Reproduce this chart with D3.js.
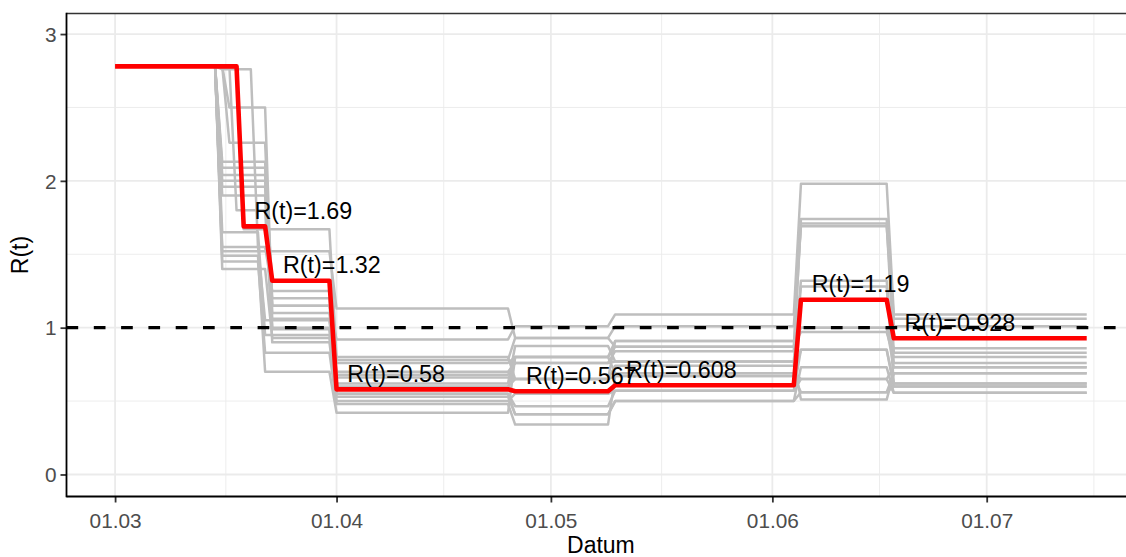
<!DOCTYPE html>
<html><head><meta charset="utf-8">
<script src="https://cdn.jsdelivr.net/npm/d3@7/dist/d3.min.js"></script>
<style>
body{margin:0;background:#fff}
svg{display:block}
text{font-family:"Liberation Sans",Arial,Helvetica,sans-serif}
</style>
</head><body>
<svg id="chart" width="1126" height="557"></svg>
<script>
// ---------------- data ----------------
const startDate = "2020-03-01";          // day 0
const lastDay = 136;                      // last plotted day (15.07.)
const xTickDates = ["2020-03-01","2020-04-01","2020-05-01","2020-06-01","2020-07-01"];
const yTickValues = [0, 1, 2, 3];
const referenceLine = 1;

// red (median) series: day on which each level starts, and its level
const redBreaks = [0, 18, 22, 31, 56, 70, 96, 109];
const redValues = [2.78, 1.69, 1.32, 0.58, 0.567, 0.608, 1.19, 0.928];
const redLabels = ["R(t)=1.69","R(t)=1.32","R(t)=0.58","R(t)=0.567","R(t)=0.608","R(t)=1.19","R(t)=0.928"];

// grey sample series
const grayBreaks = [
  [0,15,22,31,56,70,96,109],
  [0,15,22,31,56,70,96,109],
  [0,15,22,31,56,70,96,109],
  [0,16,22,31,56,70,96,109],
  [0,15,22,31,56,70,96,109],
  [0,15,22,31,56,70,96,109],
  [0,15,22,31,56,70,96,109],
  [0,15,21,31,56,70,96,109],
  [0,15,21,31,56,70,96,109],
  [0,15,31,56,70,96,109],
  [0,18,31,56,70,96,109],
  [0,15,20,22,31,56,70,96,109],
  [0,15,21,31,56,70,96,109],
  [0,15,22,31,56,70,96,109],
  [0,16,22,31,56,70,96,109],
  [0,17,22,31,56,70,96,109],
  [0,15,21,31,56,70,96,109]
];
const grayValues = [
  [2.78,2.00,1.32,0.76,0.80,0.87,1.71,0.83],
  [2.78,2.13,1.20,0.66,0.65,0.74,1.28,0.62],
  [2.78,2.09,1.15,0.92,1.01,1.09,1.98,1.09],
  [2.78,2.50,1.10,0.70,0.76,0.84,1.74,1.06],
  [2.78,2.04,1.06,0.62,0.875,0.77,1.32,0.76],
  [2.78,1.96,0.99,0.55,0.465,0.57,0.85,0.60],
  [2.78,1.90,0.90,0.53,0.41,0.50,0.73,0.556],
  [2.78,1.45,0.83,0.48,0.34,0.67,0.56,0.69],
  [2.78,1.49,0.70,0.42,0.80,0.69,0.65,0.73],
  [2.78,1.52,1.13,0.93,1.01,1.69,1.01],
  [2.78,1.67,0.80,0.65,0.91,1.00,0.86],
  [2.78,2.76,1.55,1.25,0.78,0.93,0.87,0.97,0.80],
  [2.78,1.55,1.05,0.68,0.76,0.77,0.51,0.69],
  [2.78,1.40,0.93,0.58,0.80,0.91,1.00,0.73],
  [2.78,2.26,1.15,0.60,0.65,0.67,0.85,0.62],
  [2.78,1.80,1.00,0.50,0.55,0.57,0.65,0.556],
  [2.78,1.65,0.95,0.55,0.41,0.50,0.56,0.60]
];

// ---------------- layout ----------------
const W = 1126, H = 557;
const panel = {left: 66.5, top: 13.5, bottom: 496.5, right: 1135.3};
const DAY = 86400000;
const t0 = new Date(startDate + "T00:00:00Z");
const dayToDate = d => new Date(t0.getTime() + d * DAY);
const expand = lastDay * 0.05;

const x = d3.scaleUtc()
  .domain([dayToDate(-expand), dayToDate(lastDay + expand)])
  .range([panel.left, panel.right]);
const y = d3.scaleLinear()
  .domain([-0.15, 3.14])
  .range([panel.bottom, panel.top]);

const svg = d3.select("#chart");
svg.append("rect").attr("width", W).attr("height", H).attr("fill", "#fff");

const clipId = "pclip";
svg.append("clipPath").attr("id", clipId).append("rect")
  .attr("x", panel.left).attr("y", panel.top)
  .attr("width", panel.right - panel.left).attr("height", panel.bottom - panel.top);

const g = svg.append("g").attr("clip-path", `url(#${clipId})`);

// grid
const majorX = xTickDates.map(s => new Date(s + "T00:00:00Z"));
const minorX = [];
for (let i = 0; i < majorX.length - 1; i++) minorX.push(new Date((majorX[i].getTime() + majorX[i+1].getTime()) / 2));
{
  const lastGap = majorX[majorX.length-1].getTime() - majorX[majorX.length-2].getTime();
  minorX.push(new Date(majorX[majorX.length-1].getTime() + lastGap / 2));
}
const minorY = [0.5, 1.5, 2.5];

g.selectAll(".minx").data(minorX).join("line")
  .attr("x1", d => x(d)).attr("x2", d => x(d))
  .attr("y1", panel.top).attr("y2", panel.bottom)
  .attr("stroke", "#ebebeb").attr("stroke-width", 0.9);
g.selectAll(".miny").data(minorY).join("line")
  .attr("y1", d => y(d)).attr("y2", d => y(d))
  .attr("x1", panel.left).attr("x2", panel.right)
  .attr("stroke", "#ebebeb").attr("stroke-width", 0.9);
g.selectAll(".majx").data(majorX).join("line")
  .attr("x1", d => x(d)).attr("x2", d => x(d))
  .attr("y1", panel.top).attr("y2", panel.bottom)
  .attr("stroke", "#ebebeb").attr("stroke-width", 1.8);
g.selectAll(".majy").data(yTickValues).join("line")
  .attr("y1", d => y(d)).attr("y2", d => y(d))
  .attr("x1", panel.left).attr("x2", panel.right)
  .attr("stroke", "#ebebeb").attr("stroke-width", 1.8);

// step series -> points
function stepPoints(breaks, values) {
  const pts = [];
  for (let i = 0; i < breaks.length; i++) {
    const s = breaks[i];
    const e = i < breaks.length - 1 ? breaks[i+1] - 1 : lastDay;
    pts.push([s, values[i]]);
    if (e !== s) pts.push([e, values[i]]);
  }
  return pts;
}
const line = d3.line().x(d => x(dayToDate(d[0]))).y(d => y(d[1]));

grayBreaks.forEach((b, i) => {
  g.append("path").attr("d", line(stepPoints(b, grayValues[i])))
    .attr("fill", "none").attr("stroke", "#bebebe").attr("stroke-width", 2.5)
    .attr("stroke-linejoin", "round");
});

g.append("path").attr("d", line(stepPoints(redBreaks, redValues)))
  .attr("fill", "none").attr("stroke", "#ff0000").attr("stroke-width", 4.6)
  .attr("stroke-linejoin", "round");

g.append("line")
  .attr("x1", panel.left).attr("x2", panel.right)
  .attr("y1", y(referenceLine)).attr("y2", y(referenceLine))
  .attr("stroke", "#000").attr("stroke-width", 3.2)
  .attr("stroke-dasharray", "11.7,15.6");

// labels
redLabels.forEach((t, i) => {
  const k = i + 1;
  g.append("text")
    .attr("x", x(dayToDate(redBreaks[k] + 1.5)))
    .attr("y", y(redValues[k] + 0.05))
    .attr("font-size", 23.3)
    .attr("fill", "#000")
    .text(t);
});

// panel border
svg.append("line").attr("x1", panel.left).attr("x2", panel.right)
  .attr("y1", panel.top).attr("y2", panel.top)
  .attr("stroke", "#333").attr("stroke-width", 1.6);
svg.append("line").attr("x1", panel.right).attr("x2", panel.right)
  .attr("y1", panel.top).attr("y2", panel.bottom)
  .attr("stroke", "#333").attr("stroke-width", 1.6);

// axes
const fmt = d3.utcFormat("%d.%m");
const xAxis = svg.append("g").attr("transform", `translate(0,${panel.bottom})`)
  .call(d3.axisBottom(x).tickValues(majorX).tickFormat(fmt).tickSize(6).tickPadding(4));
const yAxis = svg.append("g").attr("transform", `translate(${panel.left},0)`)
  .call(d3.axisLeft(y).tickValues(yTickValues).tickFormat(d3.format("d")).tickSize(6).tickPadding(4));

[xAxis, yAxis].forEach(a => {
  a.select(".domain").remove();
  a.selectAll(".tick line").attr("stroke", "#333").attr("stroke-width", 1.8);
  a.selectAll(".tick text").attr("fill", "#4d4d4d").attr("font-size", 20.8)
    .attr("font-family", '"Liberation Sans",Arial,sans-serif');
});
xAxis.selectAll(".tick text").attr("dy", null).attr("y", 31);
yAxis.selectAll(".tick text").attr("dy", "0.35em");

// axis lines (left and bottom)
svg.append("line").attr("x1", panel.left).attr("x2", panel.left)
  .attr("y1", panel.top - 0.8).attr("y2", panel.bottom + 0.8)
  .attr("stroke", "#000").attr("stroke-width", 1.8);
svg.append("line").attr("x1", panel.left).attr("x2", panel.right)
  .attr("y1", panel.bottom).attr("y2", panel.bottom)
  .attr("stroke", "#000").attr("stroke-width", 1.8);

// axis titles
svg.append("text").attr("x", (panel.left + panel.right) / 2).attr("y", 553)
  .attr("text-anchor", "middle").attr("font-size", 23).attr("fill", "#000").text("Datum");
svg.append("text")
  .attr("transform", `translate(28,${(panel.top + panel.bottom) / 2}) rotate(-90)`)
  .attr("text-anchor", "middle").attr("font-size", 23).attr("fill", "#000").text("R(t)");
</script>
</body></html>
